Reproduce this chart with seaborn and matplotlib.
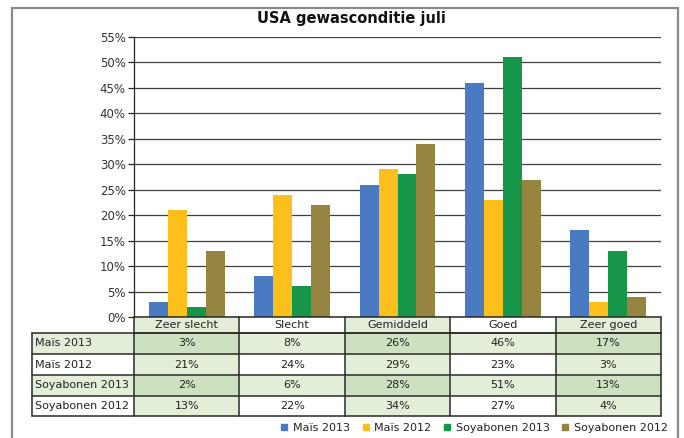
import matplotlib
matplotlib.use("Agg")
import matplotlib.pyplot as plt
import matplotlib.transforms as mtransforms
from matplotlib.patches import Rectangle
from matplotlib.lines import Line2D
import seaborn as sns
import pandas as pd

categories = ["Zeer slecht", "Slecht", "Gemiddeld", "Goed", "Zeer goed"]
series = ["Maïs 2013", "Maïs 2012", "Soyabonen 2013", "Soyabonen 2012"]
mais_2013 = [3, 8, 26, 46, 17]
mais_2012 = [21, 24, 29, 23, 3]
soya_2013 = [2, 6, 28, 51, 13]
soya_2012 = [13, 22, 34, 27, 4]
values = [mais_2013, mais_2012, soya_2013, soya_2012]
colors = ["#4A7AC2", "#FDBF1C", "#17964A", "#958541"]
yticks = list(range(0, 56, 5))
title = "USA gewasconditie juli"

rows = []
for s, vals in zip(series, values):
    for c, v in zip(categories, vals):
        rows.append({"cat": c, "series": s, "val": v})
df = pd.DataFrame(rows)

sns.set_style("white")
plt.rcParams["font.family"] = ["DejaVu Sans"]

W, H = 684, 438
fig = plt.figure(figsize=(W / 100, H / 100), dpi=100)

def fx(px):
    return px / W

def fy(py):
    return 1 - py / H

ax_l, ax_r, ax_t, ax_b = 134, 661, 37, 317
ax = fig.add_axes([fx(ax_l), fy(ax_b), fx(ax_r - ax_l), (ax_b - ax_t) / H])

sns.barplot(data=df, x="cat", y="val", hue="series", order=categories,
            hue_order=series, palette=colors, width=0.72, gap=0,
            saturation=1, ax=ax, legend=False, errorbar=None,
            linewidth=0, edgecolor="none")

ax.set_xlim(-0.5, len(categories) - 0.5)
ax.set_ylim(0, 55)
ax.set_yticks(yticks)
ax.set_yticklabels([f"{t}%" for t in yticks], fontsize=8.5, color="#333333")
ax.set_xticks([])
ax.set_xlabel("")
ax.set_ylabel("")
for t in yticks:
    ax.axhline(t, color="#404040", lw=0.9, zorder=0)
for sp in ["top", "right", "bottom"]:
    ax.spines[sp].set_visible(False)
ax.spines["left"].set_color("#222222")
ax.spines["left"].set_linewidth(0.9)
ax.tick_params(axis="y", which="major", direction="out", length=4,
               width=0.9, color="#222222", left=True, pad=2)

# outer frame
fig.add_artist(Rectangle((fx(12), fy(450)), fx(678 - 12), (450 - 8) / H,
                         transform=fig.transFigure, fill=False,
                         edgecolor="#8a8a8a", lw=1.6))

fig.text(fx(351), fy(19), title, ha="center", va="center",
         fontsize=10.5, fontweight="bold", color="#111111")

# data table
tr = mtransforms.blended_transform_factory(ax.transData, fig.transFigure)
light = "#E3EED9"
dark = "#CDE1C0"
header_top, header_bot = 317, 333
row_edges = [333, 354, 375, 396, 416]
label_left = 32
ncat = len(categories)

# header cells
for j, c in enumerate(categories):
    fc = light if j % 2 == 0 else "white"
    ax.add_patch(Rectangle((j - 0.5, fy(header_bot)), 1, (header_bot - header_top) / H,
                           transform=tr, facecolor=fc, edgecolor="none",
                           clip_on=False, zorder=1))
    ax.text(j, fy((header_top + header_bot) / 2), c, transform=tr,
            ha="center", va="center", fontsize=8, color="#222222", clip_on=False)

# body cells
for i, (s, vals) in enumerate(zip(series, values)):
    top, bot = row_edges[i], row_edges[i + 1]
    rshade = (i % 2 == 0)
    lab_fc = light if rshade else "white"
    fig.add_artist(Rectangle((fx(label_left), fy(bot)), fx(ax_l - label_left),
                             (bot - top) / H, transform=fig.transFigure,
                             facecolor=lab_fc, edgecolor="none"))
    fig.text(fx(label_left + 3), fy((top + bot) / 2), s, ha="left", va="center",
             fontsize=8, color="#222222")
    for j, v in enumerate(vals):
        cshade = (j % 2 == 0)
        if rshade and cshade:
            fc = dark
        elif rshade or cshade:
            fc = light
        else:
            fc = "white"
        ax.add_patch(Rectangle((j - 0.5, fy(bot)), 1, (bot - top) / H,
                               transform=tr, facecolor=fc, edgecolor="none",
                               clip_on=False, zorder=1))
        ax.text(j, fy((top + bot) / 2), f"{v}%", transform=tr,
                ha="center", va="center", fontsize=8, color="#222222", clip_on=False)

lc = "#2a2a2a"
lw = 1.1
# horizontal lines
for y in [header_top, header_bot]:
    fig.add_artist(Line2D([fx(ax_l), fx(ax_r)], [fy(y), fy(y)], color=lc, lw=lw))
for y in row_edges:
    fig.add_artist(Line2D([fx(label_left), fx(ax_r)], [fy(y), fy(y)], color=lc, lw=lw))
# vertical lines
for j in range(ncat + 1):
    x = ax_l + (ax_r - ax_l) * j / ncat
    fig.add_artist(Line2D([fx(x), fx(x)], [fy(header_top), fy(row_edges[-1])],
                          color=lc, lw=lw))
fig.add_artist(Line2D([fx(label_left), fx(label_left)], [fy(row_edges[0]), fy(row_edges[-1])],
                      color=lc, lw=lw))

# legend
handles = [Line2D([], [], marker="s", linestyle="none", markersize=5,
                  markerfacecolor=c, markeredgecolor=c) for c in colors]
fig.legend(handles, series, loc="center", bbox_to_anchor=(fx(474), fy(428)),
           ncol=4, frameon=False, fontsize=8, handlelength=0.8,
           handletextpad=0.4, columnspacing=1.0, labelcolor="#222222")

fig.savefig("out.png", dpi=100)
